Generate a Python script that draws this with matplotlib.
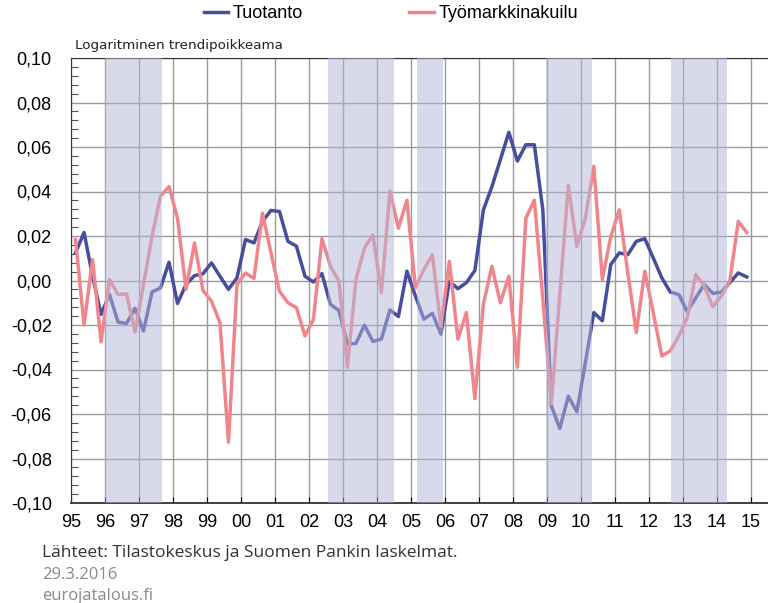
import matplotlib
matplotlib.use('Agg')
import matplotlib.pyplot as plt
from matplotlib.ticker import MultipleLocator, FuncFormatter
import numpy as np

# Quarterly data 1995Q1 - 2014Q4
start_year = 1995
tuotanto = [
    0.0124, 0.0216, 0.0020, -0.0152, -0.0063, -0.0187, -0.0193, -0.0125,
    -0.0227, -0.0052, -0.0033, 0.0082, -0.0103, -0.0018, 0.0022, 0.0030,
    0.0079, 0.0019, -0.0040, 0.0012, 0.0184, 0.0169, 0.0266, 0.0315,
    0.0310, 0.0176, 0.0154, 0.0019, -0.0007, 0.0031, -0.0107, -0.0135,
    -0.0286, -0.0283, -0.0201, -0.0274, -0.0263, -0.0132, -0.0162, 0.0042,
    -0.0070, -0.0174, -0.0147, -0.0241, -0.0003, -0.0037, -0.0010, 0.0045,
    0.0317, 0.0421, 0.0543, 0.0666, 0.0537, 0.0610, 0.0610, 0.0317,
    -0.0564, -0.0665, -0.0520, -0.0590, -0.0370, -0.0144, -0.0181, 0.0072,
    0.0124, 0.0116, 0.0176, 0.0188, 0.0101, 0.0012, -0.0052, -0.0063,
    -0.0140, -0.0078, -0.0018, -0.0058, -0.0052, -0.0010, 0.0034, 0.0016,
]
tyomarkkinakuilu = [
    0.0184, -0.0200, 0.0094, -0.0276, 0.0004, -0.0063, -0.0060, -0.0231,
    -0.0018, 0.0199, 0.0380, 0.0422, 0.0280, -0.0040, 0.0169, -0.0045,
    -0.0093, -0.0190, -0.0727, -0.0018, 0.0034, 0.0009, 0.0303, 0.0124,
    -0.0048, -0.0100, -0.0122, -0.0249, -0.0175, 0.0188, 0.0064, -0.0003,
    -0.0390, 0.0004, 0.0146, 0.0205, -0.0055, 0.0403, 0.0235, 0.0361,
    -0.0033, 0.0049, 0.0116, -0.0207, 0.0086, -0.0263, -0.0144, -0.0531,
    -0.0107, 0.0064, -0.0100, 0.0019, -0.0390, 0.0280, 0.0361, -0.0085,
    -0.0553, -0.0060, 0.0428, 0.0153, 0.0280, 0.0513, 0.0004, 0.0198,
    0.0318, 0.0034, -0.0234, 0.0042, -0.0145, -0.0339, -0.0316, -0.0250,
    -0.0167, 0.0027, -0.0025, -0.0118, -0.0070, -0.0003, 0.0266, 0.0216,
]
# shaded periods (decimal years)
shaded = [(1996.0, 1997.66), (2002.55, 2004.5), (2005.17, 2005.93),
          (2008.98, 2010.32), (2012.65, 2014.3)]
year_labels = ['95', '96', '97', '98', '99', '00', '01', '02', '03', '04',
               '05', '06', '07', '08', '09', '10', '11', '12', '13', '14', '15']

BLUE = '#474d9f'
PINK = '#f0868c'


def fmt_y(v, pos):
    if abs(v) < 1e-9:
        v = 0.0
    return f'{v:.2f}'.replace('.', ',')


fig = plt.figure(figsize=(7.68, 6.03), dpi=100)
ax = fig.add_axes([71.3 / 768, 1 - 503 / 603, (768 - 71.3) / 768, (503 - 58) / 603])

x = start_year + 0.125 + np.arange(len(tuotanto)) / 4
ax.plot(x, tuotanto, color=BLUE, lw=2.5, zorder=2, label='Tuotanto')
ax.plot(x, tyomarkkinakuilu, color=PINK, lw=2.5, zorder=2, label='Työmarkkinakuilu')

for a, b in shaded:
    ax.axvspan(a, b, color='#b3b7d9', alpha=0.5, lw=0, zorder=3)

ax.set_xlim(1995, 2015.5)
ax.set_ylim(-0.10, 0.10)
ax.set_xticks(range(1995, 2016))
ax.set_xticklabels(year_labels)
ax.yaxis.set_major_locator(MultipleLocator(0.02))
ax.yaxis.set_minor_locator(MultipleLocator(0.004))
ax.yaxis.set_major_formatter(FuncFormatter(fmt_y))

ax.grid(True, which='major', color='#9a9a9a', lw=1.0, zorder=1)
ax.set_axisbelow(True)
ax.tick_params(axis='y', which='major', direction='in', length=0, pad=14,
               labelsize=13)
ax.tick_params(axis='y', which='minor', direction='in', length=5, width=0.8,
               color='#555555')
ax.tick_params(axis='x', which='major', direction='in', length=4, width=0.8,
               pad=8, labelsize=13)
for lab in ax.get_xticklabels() + ax.get_yticklabels():
    lab.set_family('Liberation Sans')

ax.spines['right'].set_visible(False)
ax.spines['top'].set_color('#333333')
ax.spines['left'].set_color('#333333')
ax.spines['bottom'].set_color('#333333')
ax.spines['bottom'].set_linewidth(1.3)

fig.text(75 / 768, 1 - 46 / 603, 'Logaritminen trendipoikkeama', fontsize=9.7,
         family='DejaVu Sans', color='#222222', va='center')

fig.legend(loc='center', bbox_to_anchor=(0.509, 1 - 14 / 603), ncol=2,
           frameon=False, prop={'family': 'Liberation Sans', 'size': 13},
           handlelength=1.35, handletextpad=0.25, columnspacing=5.9)

fig.text(42 / 768, 1 - 553 / 603, 'Lähteet: Tilastokeskus ja Suomen Pankin laskelmat.',
         fontsize=12.5, family='Open Sans', color='#333333', va='center')
fig.text(42 / 768, 1 - 575 / 603, '29.3.2016', fontsize=12,
         family='Open Sans', color='#8a8a8a', va='center')
fig.text(42 / 768, 1 - 596 / 603, 'eurojatalous.fi', fontsize=12,
         family='Open Sans', color='#8a8a8a', va='center')

fig.savefig('out.png', dpi=100)
